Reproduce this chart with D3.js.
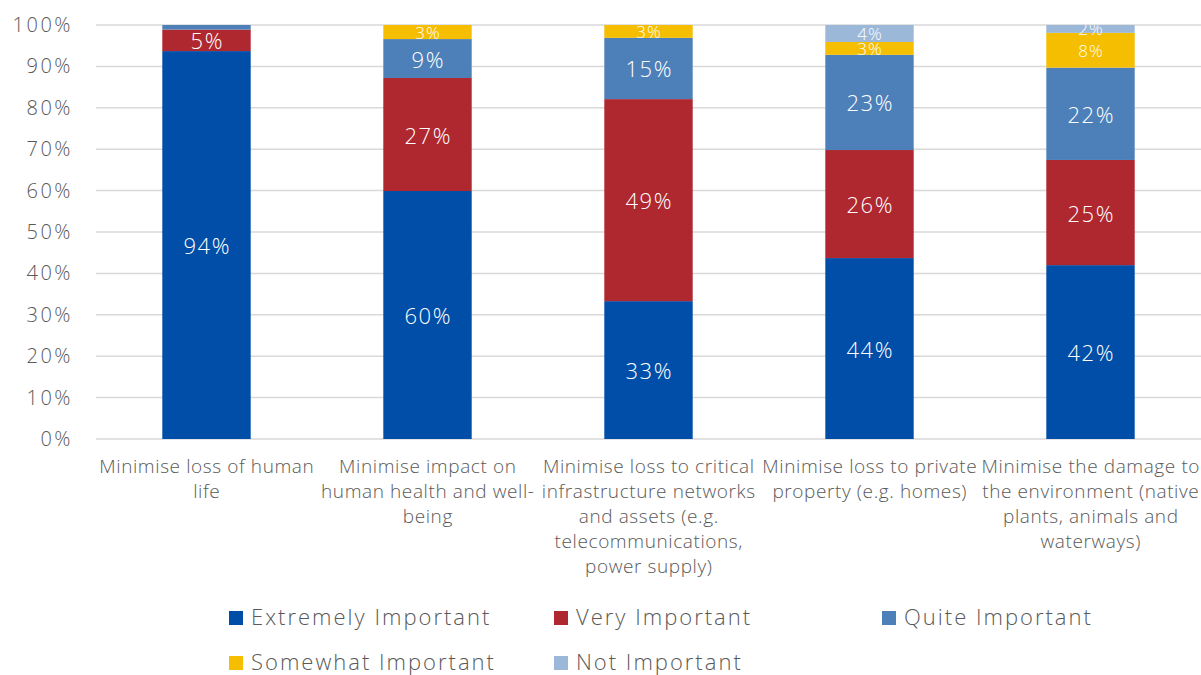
<!DOCTYPE html>
<html>
<head>
<meta charset="utf-8">
<script src="https://cdn.jsdelivr.net/npm/d3@7"></script>
<style>
  html, body { margin: 0; padding: 0; background: #fff; }
  svg { display: block; font-family: "Open Sans", "Noto Sans", sans-serif; font-weight: 300; }
</style>
</head>
<body>
<svg id="chart" width="1201" height="675"></svg>
<script>
// Survey: importance of each objective (share of respondents, %)
const categories = [
  "Minimise loss of human\nlife",
  "Minimise impact on\nhuman health and well-\nbeing",
  "Minimise loss to critical\ninfrastructure networks\nand assets (e.g.\ntelecommunications,\npower supply)",
  "Minimise loss to private\nproperty (e.g. homes)",
  "Minimise the damage to\nthe environment (native\nplants, animals and\nwaterways)"
];
const seriesNames = ["Extremely Important", "Very Important", "Quite Important", "Somewhat Important", "Not Important"];
const extremelyImportant = [93.7, 59.9, 33.3, 43.7, 42.0];
const veryImportant      = [5.2, 27.3, 48.8, 26.1, 25.4];
const quiteImportant     = [1.1, 9.4, 14.8, 23.0, 22.3];
const somewhatImportant  = [0, 3.4, 3.1, 3.1, 8.4];
const notImportant       = [0, 0, 0, 4.1, 1.9];
const yTicks = [0, 10, 20, 30, 40, 50, 60, 70, 80, 90, 100];

const seriesValues = [extremelyImportant, veryImportant, quiteImportant, somewhatImportant, notImportant];
const colors = ["#004ea8", "#af272f", "#4d80b9", "#f5be00", "#9bb8d9"];
// smaller label text for the two thinnest series
const labelSize = [22, 22, 22, 17, 17];
// labels are only drawn on segments of at least this size
const minLabelled = 1.5;

const svg = d3.select("#chart");
const plot = { left: 96, right: 1201, top: 25, bottom: 439 };

const x = d3.scaleBand()
  .domain(d3.range(categories.length))
  .range([plot.left, plot.right])
  .paddingInner(0.6)
  .paddingOuter(0.3);

const y = d3.scaleLinear().domain([0, 100]).range([plot.bottom, plot.top]);

// gridlines
svg.append("g")
  .selectAll("line")
  .data(yTicks)
  .join("line")
  .attr("x1", plot.left).attr("x2", plot.right)
  .attr("y1", d => y(d)).attr("y2", d => y(d))
  .attr("stroke", "#d9d9d9")
  .attr("stroke-width", 1.5);

// y axis labels
const yAxis = svg.append("g")
  .attr("transform", `translate(${plot.left - 23},0)`)
  .call(d3.axisLeft(y).tickValues(yTicks).tickFormat(d => d + "%").tickSize(0).tickPadding(0));
yAxis.select(".domain").remove();
yAxis.selectAll("text")
  .attr("fill", "#595959")
  .attr("dy", "0.32em")
  .style("font-size", "20px")
  .style("font-weight", 300)
  .style("letter-spacing", "2.5px")
  .style("font-family", "'Open Sans', 'Noto Sans', sans-serif");

// stacked data
const rows = categories.map((c, i) => {
  const r = { idx: i };
  seriesNames.forEach((s, k) => { r[s] = seriesValues[k][i]; });
  return r;
});
const stacked = d3.stack().keys(seriesNames)(rows);

svg.append("defs").append("clipPath").attr("id", "plotClip")
  .append("rect")
  .attr("x", plot.left).attr("y", plot.top)
  .attr("width", plot.right - plot.left).attr("height", plot.bottom - plot.top);

const layers = svg.append("g")
  .selectAll("g")
  .data(stacked)
  .join("g")
  .attr("fill", (d, k) => colors[k]);

layers.selectAll("rect")
  .data(d => d)
  .join("rect")
  .attr("x", d => x(d.data.idx))
  .attr("width", x.bandwidth())
  .attr("y", d => y(d[1]))
  .attr("height", d => y(d[0]) - y(d[1]));

// value labels (trailing letter-spacing is offset so the text stays centred)
const labelGroup = svg.append("g").attr("clip-path", "url(#plotClip)");
stacked.forEach((layer, k) => {
  const spacing = k < 3 ? 1.5 : 1.1;
  labelGroup.append("g")
    .selectAll("text")
    .data(layer.filter(d => d[1] - d[0] >= minLabelled))
    .join("text")
    .attr("x", d => x(d.data.idx) + x.bandwidth() / 2 + spacing / 2)
    .attr("y", d => (y(d[0]) + y(d[1])) / 2)
    .attr("text-anchor", "middle")
    .attr("dominant-baseline", "central")
    .attr("fill", "#fff")
    .style("font-size", labelSize[k] + "px")
    .style("letter-spacing", spacing + "px")
    .text(d => Math.round(d[1] - d[0]) + "%");
});

// category labels
const catLabels = svg.append("g")
  .selectAll("text")
  .data(categories)
  .join("text")
  .attr("x", (d, i) => x(i) + x.bandwidth() / 2 + 0.3)
  .attr("y", 473)
  .attr("text-anchor", "middle")
  .attr("fill", "#595959")
  .style("font-size", "19px")
  .style("letter-spacing", "0.6px");
catLabels.selectAll("tspan")
  .data(d => d.split("\n"))
  .join("tspan")
  .attr("x", function () { return d3.select(this.parentNode).attr("x"); })
  .attr("dy", (d, j) => j === 0 ? 0 : 25)
  .text(d => d);

// legend
const legendPos = [[229, 625], [554, 625], [882, 625], [229, 670], [554, 670]];
const legend = svg.append("g")
  .selectAll("g")
  .data(seriesNames)
  .join("g")
  .attr("transform", (d, k) => `translate(${legendPos[k][0]},${legendPos[k][1]})`);
legend.append("rect")
  .attr("x", 0).attr("y", -14)
  .attr("width", 14).attr("height", 14)
  .attr("fill", (d, k) => colors[k]);
legend.append("text")
  .attr("x", 22).attr("y", 0)
  .attr("fill", "#595959")
  .style("font-size", "22px")
  .style("letter-spacing", "2px")
  .text(d => d);
</script>
</body>
</html>
